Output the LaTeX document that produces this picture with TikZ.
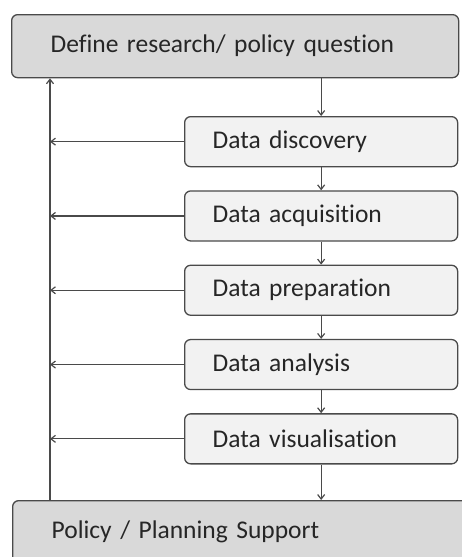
\documentclass[tikz,border=0pt]{standalone}
\usepackage{fontspec}
\setmainfont{Carlito}[Ligatures=NoCommon]
\usetikzlibrary{positioning,arrows.meta}

\definecolor{linegray}{HTML}{4A4A4A}
\definecolor{darkfill}{HTML}{D9D9D9}
\definecolor{lightfill}{HTML}{F2F2F2}

\begin{document}
\begin{tikzpicture}[
    node distance=23pt,
    every node/.style={font=\fontsize{25.5}{30}\selectfont, text=black!85},
    bigbox/.style={draw=linegray, line width=1.3pt, fill=darkfill, rounded corners=6pt,
        rectangle, align=left, inner xsep=39pt, anchor=north west},
    stepbox/.style={draw=linegray, line width=1.3pt, fill=lightfill, rounded corners=6pt,
        rectangle, text width=217pt, inner xsep=28pt, minimum height=50pt, align=left},
    arrow/.style={-{Straight Barb[length=4.5pt,width=7pt]}, line width=1.2pt, draw=linegray}
]
\useasboundingbox (0,0) rectangle (461pt,-557pt);

\node[bigbox, text width=369pt, minimum height=63pt] (question) at (11pt,-14pt) {Define research/ policy question};
\node[stepbox, anchor=north west] (discovery) at (184pt,-116pt) {Data discovery};
\node[stepbox, below=of discovery] (acquisition) {Data acquisition};
\node[stepbox, below=of acquisition] (preparation) {Data preparation};
\node[stepbox, below=of preparation] (analysis) {Data analysis};
\node[stepbox, below=of analysis] (visualisation) {Data visualisation};
\node[bigbox, text width=382pt, minimum height=62pt] (support) at (12pt,-500pt) {Policy / Planning Support};
\coordinate (loop) at (50pt,0);

% main chain
\draw[arrow] (question.south -| discovery.north) -- (discovery.north);
\draw[arrow] (discovery) -- (acquisition);
\draw[arrow] (acquisition) -- (preparation);
\draw[arrow] (preparation) -- (analysis);
\draw[arrow] (analysis) -- (visualisation);
\draw[arrow] (visualisation.south) -- (support.north -| visualisation.south);

% feedback
\draw[arrow] (support.north -| loop) -- (question.south -| loop);
\foreach \s in {discovery,acquisition,preparation,analysis,visualisation}
    \draw[arrow] (\s.west) -- (\s.west -| loop);
\end{tikzpicture}
\end{document}
